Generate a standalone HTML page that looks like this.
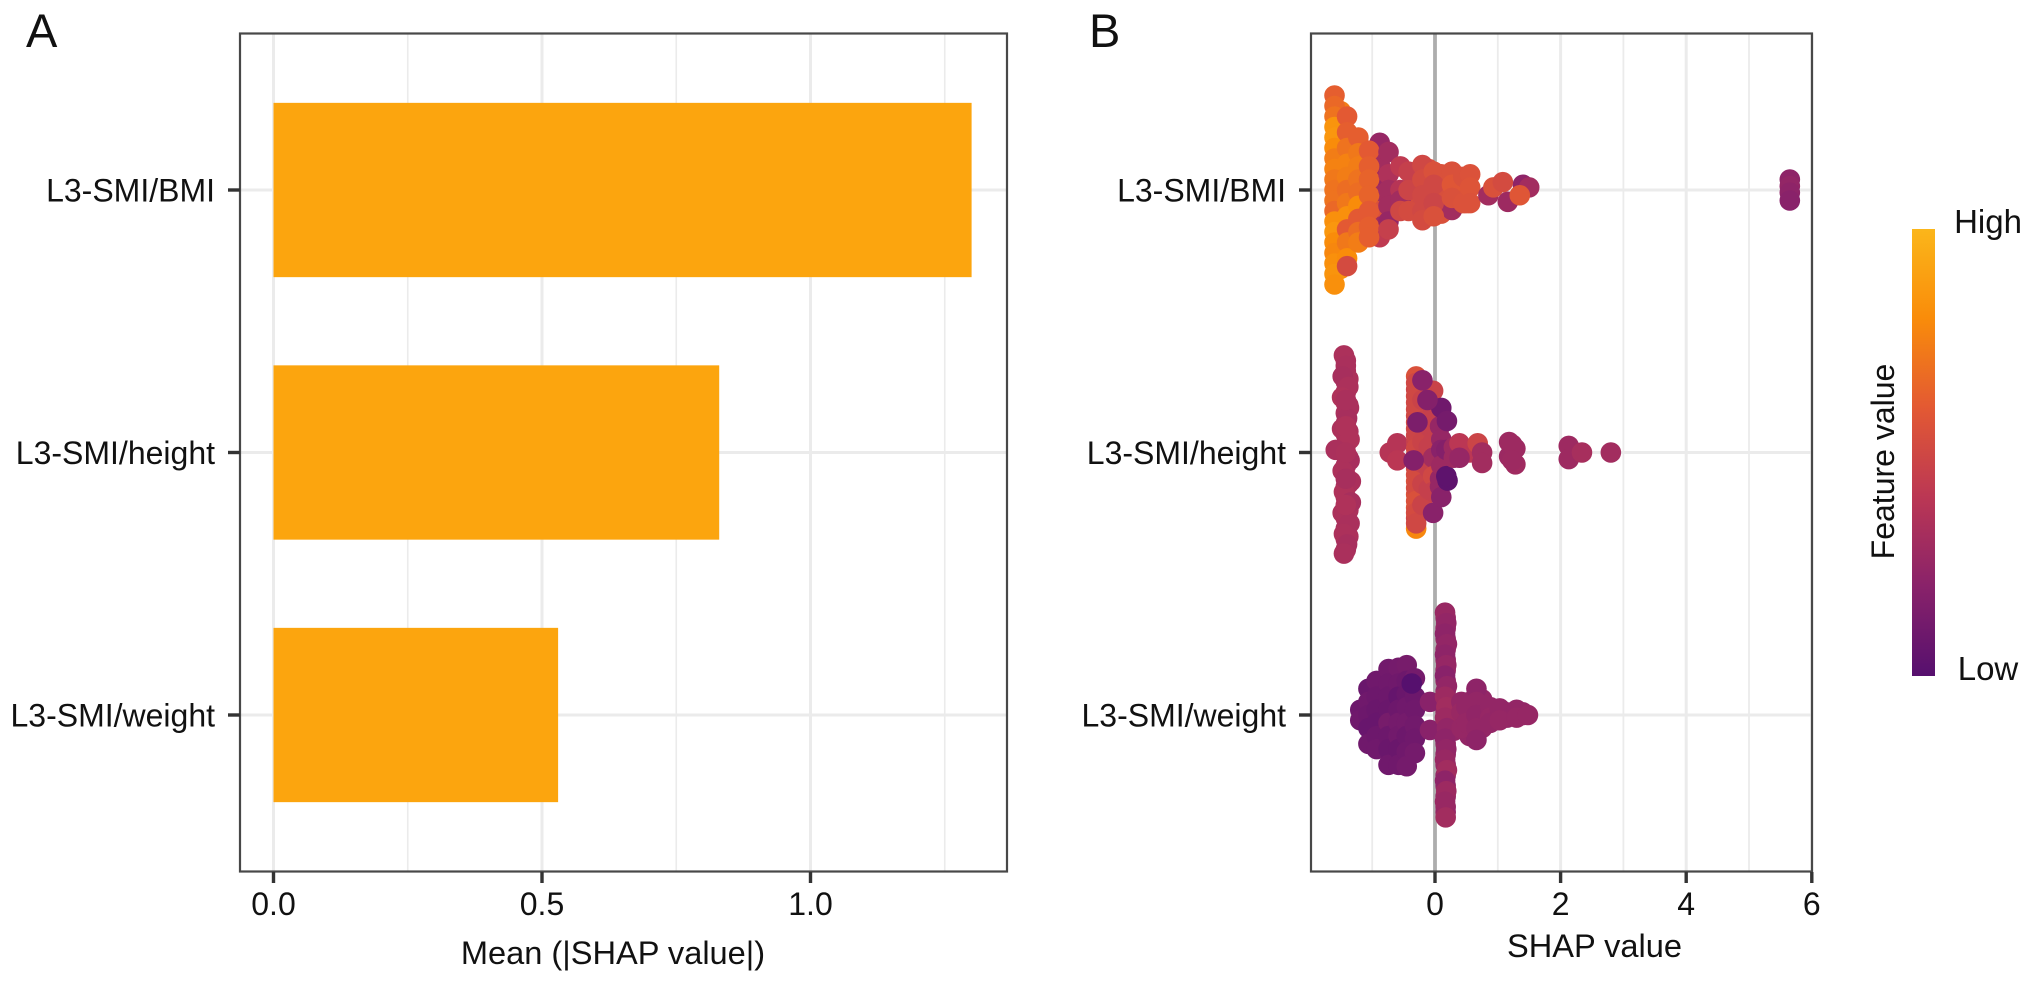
<!DOCTYPE html>
<html lang="en">
<head>
<meta charset="utf-8">
<title>SHAP importance and beeswarm chart</title>
<style>
html,body{margin:0;padding:0;background:#fff;width:2032px;height:984px;overflow:hidden}
svg{display:block}
text{font-family:"Liberation Sans",Arial,sans-serif;fill:#111}
</style>
</head>
<body>
<svg id="chart" xmlns="http://www.w3.org/2000/svg" width="2032" height="984" viewBox="0 0 2032 984">
  <defs>
    <linearGradient id="legendRamp" x1="0" y1="0" x2="0" y2="1">
      <stop offset="0" stop-color="#fbb61a"/>
      <stop offset="0.2" stop-color="#f98c0a"/>
      <stop offset="0.4" stop-color="#e35933"/>
      <stop offset="0.6" stop-color="#bb3754"/>
      <stop offset="0.8" stop-color="#89226a"/>
      <stop offset="1" stop-color="#56106e"/>
    </linearGradient>
  </defs>
  <rect width="2032" height="984" fill="#fff"/>
  <g id="panelA"></g>
  <g id="panelB"></g>
  <text x="26" y="47" font-size="47">A</text>
  <text x="1089" y="47" font-size="47">B</text>
  <text x="613" y="964" font-size="32.6" text-anchor="middle">Mean (|SHAP value|)</text>
  <text x="1594.5" y="957" font-size="32.6" text-anchor="middle">SHAP value</text>
  <g>
    <rect x="1912" y="229" width="23" height="447" fill="url(#legendRamp)"/>
    <text transform="translate(1894 461.5) rotate(-90)" font-size="32" text-anchor="middle">Feature value</text>
    <text x="1988" y="233" font-size="33" text-anchor="middle">High</text>
    <text x="1988" y="680" font-size="33" text-anchor="middle">Low</text>
  </g>
</svg>
<script>
const categories = ["L3-SMI/BMI", "L3-SMI/height", "L3-SMI/weight"];
const meanShap = [1.30, 0.83, 0.53];
const barTicks = ["0.0", "0.5", "1.0"];
const barMinorTicks = [0.25, 0.75, 1.25];
const swarmTicks = ["0", "2", "4", "6"];
const swarmMinorTicks = [-1, 1, 3, 5];

const bmiShap = [
-1.5,-1.5,-1.5,-1.5,-1.5,-1.5,-1.5,-1.5,-1.5,-1.5,-1.5,-1.5,
-1.3,-1.3,-1.3,-1.3,-1.3,-1.3,-1.3,-1.3,-1.3,
-1.12,-1.12,-1.12,-1.12,-1.12,-1.12,
-0.3,-0.3,-0.3,-0.3,
-0.1,-0.1,-0.1,-0.1,
0.1,0.1,0.1,0.1,
0.2,0.2,0.2,
0.4,0.4,0.4,
0.5,0.5,0.5,
-1.6,-1.6,-1.6,-1.6,-1.6,-1.6,-1.6,-1.6,-1.6,-1.6,-1.6,-1.6,-1.6,-1.6,-1.6,-1.6,-1.6,-1.6,-1.6,
-1.4,-1.4,-1.4,-1.4,-1.4,-1.4,-1.4,-1.4,-1.4,-1.4,-1.4,-1.4,
-1.22,-1.22,-1.22,-1.22,-1.22,-1.22,-1.22,-1.22,-1.22,
-0.88,-0.88,-0.88,-0.88,-0.88,-0.88,-0.88,
-1.05,-1.05,-1.05,-1.05,-1.05,-1.05,-1.05,
-0.74,-0.74,-0.74,-0.74,-0.74,-0.74,
-0.55,-0.55,-0.55,-0.55,
-0.42,-0.42,-0.42,
0.27,
-0.2,-0.2,-0.2,-0.2,-0.2,
-0.02,-0.02,-0.02,-0.02,
0.27,0.27,0.27,
0.45,0.45,
0.56,0.56,0.56,
0.85,1.16,1.4,1.5,
0.93,1.08,1.35,
5.65,5.65,5.65,5.65];
const bmiSwarm = [
0.3,0.25,0.2,0.15,0.1,0.05,-0.05,-0.1,-0.15,-0.2,-0.25,-0.3,
0.2,0.15,0.1,0.05,0,-0.05,-0.1,-0.15,-0.2,
0.15,0.09,0.03,-0.03,-0.09,-0.15,
0.06,0.02,-0.03,-0.08,
0.08,0.03,-0.03,-0.09,
0.06,0.02,-0.03,-0.09,
0.06,0,-0.06,
0.05,0,-0.05,
0.05,0,-0.05,
0.36,0.32,0.28,0.24,0.2,0.16,0.12,0.08,0.04,0,-0.04,-0.08,-0.12,-0.16,-0.2,-0.24,-0.28,-0.32,-0.36,
0.28,0.22,0.16,0.1,0.05,0,-0.05,-0.1,-0.15,-0.2,-0.26,-0.29,
0.2,0.14,0.09,0.04,-0.01,-0.06,-0.11,-0.16,-0.2,
0.18,0.1,0.04,-0.02,-0.08,-0.14,-0.18,
0.15,0.09,0.04,-0.02,-0.08,-0.14,-0.18,
0.145,0.06,0,-0.06,-0.12,-0.15,
0.09,0,-0.04,-0.08,
0.07,0,-0.08,
-0.076,
0.095,0.04,-0.02,-0.08,-0.115,
0.07,0.02,-0.05,-0.1,
0.07,0.02,-0.03,
0.05,-0.05,
0.06,0.01,-0.05,
-0.02,-0.045,0.02,0.01,
0.01,0.03,-0.02,
0.04,0.015,-0.01,-0.04];
const bmiFeature = [
0.74,0.72,0.8,0.76,0.72,0.7,0.72,0.76,0.8,0.74,0.78,0.8,
0.68,0.72,0.7,0.7,0.66,0.72,0.78,0.7,0.68,
0.62,0.64,0.62,0.66,0.72,0.66,
0.52,0.5,0.52,0.5,
0.54,0.52,0.5,0.52,
0.55,0.54,0.52,0.55,
0.55,0.54,0.55,
0.56,0.55,0.56,
0.56,0.57,0.56,
0.62,0.66,0.7,0.84,0.85,0.8,0.74,0.76,0.72,0.7,0.7,0.66,0.82,0.85,0.8,0.78,0.82,0.84,0.82,
0.6,0.62,0.7,0.76,0.74,0.68,0.72,0.82,0.6,0.72,0.8,0.52,
0.62,0.72,0.74,0.7,0.68,0.8,0.6,0.68,0.74,
0.25,0.3,0.25,0.3,0.55,0.3,0.42,
0.6,0.62,0.64,0.64,0.6,0.62,0.62,
0.3,0.35,0.3,0.3,0.25,0.45,
0.42,0.38,0.3,0.5,
0.45,0.48,0.52,
0.3,
0.5,0.52,0.5,0.5,0.52,
0.55,0.5,0.48,0.55,
0.55,0.58,0.55,
0.55,0.56,
0.56,0.57,0.56,
0.3,0.28,0.22,0.3,
0.55,0.52,0.58,
0.22,0.24,0.22,0.2];

const heightShap = [
-1.42,-1.42,-1.42,-1.42,-1.42,-1.42,-1.42,-1.42,-1.42,-1.42,-1.42,-1.42,-1.42,-1.42,-1.42,-1.42,-1.42,-1.42,-1.42,
-1.38,-1.38,-1.38,-1.38,-1.38,-1.38,-1.38,
-1.45,-1.42,-1.47,-1.38,-1.48,-1.37,-1.4,-1.48,-1.36,-1.58,-1.36,-1.47,-1.34,-1.45,-1.34,-1.47,-1.36,-1.45,-1.4,-1.45,
-1.42,-1.42,-1.42,-1.42,-1.42,
-0.72,-0.6,-0.6,
-0.3,-0.3,-0.3,-0.3,-0.3,-0.3,-0.3,-0.3,-0.3,-0.3,-0.3,-0.3,-0.3,
-0.3,-0.3,-0.3,-0.3,-0.3,-0.3,-0.3,-0.3,-0.3,-0.3,-0.3,-0.3,
-0.2,-0.2,-0.2,-0.2,-0.2,-0.2,
-0.1,-0.1,-0.1,-0.1,
-0.03,-0.03,-0.03,-0.03,-0.03,-0.03,-0.03,
-0.03,0.08,0.08,0.08,0.1,0.1,0.1,0.1,0.1,
-0.28,-0.34,-0.12,-0.2,
0.19,0.18,0.2,0.18,
0.3,0.3,0.55,
0.39,0.39,0.68,0.75,0.75,
1.18,1.28,1.18,1.28,1.23,1.23,
2.13,2.13,2.34,2.8];
const heightSwarm = [
0.35,0.31,0.27,0.23,0.19,0.15,0.11,0.07,0.03,-0.01,-0.05,-0.09,-0.13,-0.17,-0.21,-0.25,-0.29,-0.33,-0.37,
0.28,0.18,0.08,-0.02,-0.12,-0.22,-0.32,
0.37,0.33,0.29,0.25,0.21,0.17,0.13,0.09,0.05,0.01,-0.03,-0.07,-0.11,-0.15,-0.19,-0.23,-0.27,-0.31,-0.35,-0.385,
0.2,0.1,0,-0.1,-0.2,
0,0.035,-0.03,
-0.29,0.29,0.24,0.19,0.14,0.09,0.04,-0.01,-0.06,-0.11,-0.16,-0.21,-0.25,
0.265,0.215,0.165,0.115,0.065,0.015,-0.035,-0.085,-0.135,-0.185,-0.23,-0.27,
0.2,0.12,0.04,-0.04,-0.12,-0.2,
0.1,0.02,-0.06,-0.14,
0.235,0.17,0.1,0.04,-0.02,-0.09,-0.15,
-0.23,0.1,-0.1,-0.13,0.17,0.05,0.01,-0.05,-0.17,
0.115,-0.03,0.2,0.275,
0.12,0.01,-0.107,-0.09,
0.02,-0.02,0,
0.035,-0.02,0.035,0,-0.04,
0.04,0.015,-0.015,-0.045,0.03,-0.03,
0.025,-0.025,0,0];
const heightFeature = [
0.33,0.33,0.33,0.33,0.33,0.33,0.33,0.33,0.33,0.33,0.33,0.33,0.33,0.33,0.33,0.33,0.33,0.33,0.33,
0.34,0.34,0.34,0.34,0.34,0.34,0.34,
0.34,0.33,0.32,0.34,0.35,0.33,0.32,0.34,0.35,0.33,0.32,0.34,0.33,0.35,0.32,0.34,0.33,0.34,0.32,0.33,
0.33,0.35,0.34,0.32,0.35,
0.38,0.38,0.4,
0.78,0.55,0.48,0.5,0.5,0.5,0.45,0.5,0.5,0.55,0.55,0.55,0.48,
0.5,0.5,0.5,0.5,0.48,0.5,0.5,0.52,0.52,0.55,0.52,0.5,
0.47,0.47,0.47,0.47,0.47,0.47,
0.45,0.45,0.45,0.45,
0.47,0.45,0.45,0.45,0.3,0.5,0.45,
0.2,0.25,0.25,0.25,0.1,0.25,0.2,0.28,0.2,
0.15,0.18,0.18,0.2,
0.12,0.18,0.03,0.03,
0.28,0.28,0.4,
0.4,0.25,0.48,0.3,0.3,
0.28,0.28,0.27,0.29,0.28,0.28,
0.28,0.28,0.32,0.3];

const weightShap = [
-1.0,-1.0,-1.0,
-0.85,-0.85,-0.85,-0.85,-0.85,
-0.66,-0.66,-0.66,-0.66,-0.66,
-0.52,-0.52,-0.52,-0.52,
0.17,0.17,0.17,0.17,0.17,0.17,0.17,0.17,0.17,0.17,0.17,0.17,0.17,0.17,0.17,0.17,0.17,0.17,0.17,0.17,
0.3,0.3,0.3,0.3,
0.55,0.55,0.55,0.55,
0.75,0.75,0.75,0.75,
0.95,0.95,
1.15,1.15,
1.4,1.4,
-1.19,-1.19,
-1.06,-1.06,-1.06,-1.06,-1.06,
-0.93,-0.93,-0.93,-0.93,-0.93,-0.93,
-0.74,-0.74,-0.74,-0.74,-0.74,-0.74,-0.74,-0.74,
-0.58,-0.58,-0.58,-0.58,-0.58,-0.58,-0.58,-0.58,
-0.45,-0.45,-0.45,-0.45,-0.45,-0.45,-0.45,-0.45,
-0.32,-0.32,-0.32,-0.32,-0.32,-0.32,
-0.37,
-0.08,-0.08,
0.16,0.18,0.16,0.19,0.16,0.18,0.16,0.19,0.16,0.18,0.16,0.19,0.16,0.18,0.16,0.19,0.16,0.18,0.16,0.17,
0.42,0.42,0.42,0.5,0.5,
0.66,0.66,0.66,0.66,0.66,
0.88,0.88,0.88,
1.03,1.03,
1.3,1.3,
1.48];
const weightSwarm = [
0.05,0,-0.05,
0.12,0.06,0,-0.06,-0.12,
0.14,0.06,0,-0.06,-0.14,
0.15,0.05,-0.05,-0.15,
0.37,0.33,0.29,0.25,0.21,0.17,0.13,0.09,0.05,0.01,-0.03,-0.07,-0.11,-0.15,-0.19,-0.23,-0.27,-0.31,-0.35,-0.37,
0.04,0,-0.04,-0.06,
0.05,0,-0.05,-0.08,
0.06,0.02,-0.02,-0.05,
0.01,-0.02,
0.01,-0.01,
0,0.01,
0.02,-0.02,
0.1,0.05,0,-0.05,-0.11,
0.13,0.07,0.02,-0.03,-0.08,-0.13,
0.175,0.12,0.07,0.02,-0.03,-0.08,-0.13,-0.19,
0.18,0.12,0.07,0.02,-0.03,-0.08,-0.13,-0.19,
0.19,0.13,0.08,0.03,-0.03,-0.08,-0.14,-0.195,
0.14,0.07,0.02,-0.04,-0.09,-0.145,
0.12,
0.05,-0.057,
0.39,0.35,0.31,0.27,0.23,0.19,0.15,0.11,0.07,0.03,-0.01,-0.05,-0.09,-0.13,-0.17,-0.21,-0.25,-0.29,-0.33,-0.39,
0.05,0.01,-0.05,0.03,-0.03,
0.1,0.05,0,-0.05,-0.095,
0.03,-0.01,-0.03,
0.025,-0.02,
0.02,-0.01,
0];
const weightFeature = [
0.09,0.09,0.09,
0.09,0.09,0.09,0.09,0.09,
0.1,0.1,0.1,0.1,0.1,
0.1,0.1,0.1,0.1,
0.25,0.25,0.25,0.25,0.25,0.25,0.25,0.25,0.25,0.25,0.25,0.25,0.25,0.25,0.25,0.25,0.25,0.25,0.25,0.25,
0.24,0.24,0.24,0.24,
0.24,0.24,0.24,0.24,
0.24,0.24,0.24,0.24,
0.24,0.24,
0.24,0.24,
0.24,0.24,
0.09,0.1,
0.08,0.1,0.09,0.07,0.1,
0.1,0.09,0.08,0.07,0.09,0.1,
0.11,0.1,0.09,0.08,0.13,0.09,0.08,0.1,
0.12,0.1,0.06,0.09,0.12,0.11,0.08,0.1,
0.13,0.09,0.08,0.1,0.12,0.09,0.1,0.12,
0.12,0.09,0.1,0.11,0.1,0.12,
0.0,
0.2,0.2,
0.26,0.24,0.22,0.24,0.22,0.25,0.2,0.24,0.28,0.3,0.28,0.24,0.22,0.24,0.26,0.3,0.22,0.28,0.26,0.3,
0.24,0.26,0.25,0.24,0.25,
0.22,0.24,0.23,0.24,0.22,
0.24,0.25,0.24,
0.24,0.25,
0.24,0.25,
0.25];

const groups = [
  { name: "bmi", shap: bmiShap, swarm: bmiSwarm, feature: bmiFeature },
  { name: "height", shap: heightShap, swarm: heightSwarm, feature: heightFeature },
  { name: "weight", shap: weightShap, swarm: weightSwarm, feature: weightFeature }
];

const SVGNS = "http://www.w3.org/2000/svg";
const panelA = document.getElementById("panelA");
const panelB = document.getElementById("panelB");

function xA(v) { return 273.5 + 537 * v; }
function xB(v) { return 1435 + 62.8 * v; }
function yCat(pos) { return 190 + 262.5 * pos; }

const ramp = [[0x56,0x10,0x6e],[0x89,0x22,0x6a],[0xbb,0x37,0x54],[0xe3,0x59,0x33],[0xf9,0x8c,0x0a],[0xfb,0xb6,0x1a]];
function featureColor(f) {
  const t = Math.max(0, Math.min(1, f)) * (ramp.length - 1);
  const i = Math.min(ramp.length - 2, Math.floor(t));
  const u = t - i;
  const c = ramp[i].map((a, k) => Math.round(a + (ramp[i + 1][k] - a) * u));
  return "rgb(" + c.join(",") + ")";
}

function make(parent, tag, props, content) {
  const el = document.createElementNS(SVGNS, tag);
  for (const key in props) el.setAttribute(key, props[key]);
  if (content !== undefined) el.textContent = content;
  parent.appendChild(el);
  return el;
}

function vGrid(parent, x, width, label) {
  const el = make(parent, "line", { x1: x, x2: x, y1: 34, y2: 871, stroke: "#ebebeb", "stroke-width": width });
  
  
}

function hGrid(parent, y, x1, x2) {
  const el = make(parent, "line", { x1: x1, x2: x2, y1: y, y2: y, stroke: "#ebebeb", "stroke-width": 3 });
  
  
}

function frame(parent, x1, x2) {
  const el = make(parent, "rect", { x: x1, y: 33.5, width: x2 - x1, height: 838, fill: "none", stroke: "#484848", "stroke-width": 2.2 });
  
  
}

function xTick(parent, x, label) {
  const tick = make(parent, "line", { x1: x, x2: x, y1: 872, y2: 883, stroke: "#333", "stroke-width": 3.4 });
  
  
  const text = make(parent, "text", { x: x, y: 915, "font-size": 32, "text-anchor": "middle" }, label);
  
  
}

function yTick(parent, y, axisX, label) {
  const tick = make(parent, "line", { x1: axisX - 12, x2: axisX, y1: y, y2: y, stroke: "#333", "stroke-width": 3.4 });
  
  
  const text = make(parent, "text", { x: axisX - 25, y: y + 11.5, "font-size": 32, "text-anchor": "end" }, label);
  
  
}

/* Panel A: mean absolute SHAP bars */
barMinorTicks.forEach(function (v) { vGrid(panelA, xA(v), 1.6, 'x-minor-gridline'); });
barTicks.forEach(function (t) { vGrid(panelA, xA(parseFloat(t)), 3, 'x-major-gridline'); });
categories.forEach(function (c, i) { hGrid(panelA, yCat(i), 241, 1006); });
meanShap.forEach(function (v, i) {
  const bar = make(panelA, "rect", {
    x: xA(0), y: yCat(i - 0.332), width: xA(v) - xA(0), height: yCat(0.664) - yCat(0), fill: "#fca50e"
  });
  
  
});
frame(panelA, 240, 1007);
barTicks.forEach(function (t) { xTick(panelA, xA(parseFloat(t)), t); });
categories.forEach(function (c, i) { yTick(panelA, yCat(i), 240, c); });

/* Panel B: SHAP beeswarm */
swarmMinorTicks.forEach(function (v) { vGrid(panelB, xB(v), 1.8, 'x-minor-gridline'); });
swarmTicks.forEach(function (t) { vGrid(panelB, xB(parseFloat(t)), 3, 'x-major-gridline'); });
categories.forEach(function (c, i) { hGrid(panelB, yCat(i), 1312, 1811); });
const zeroLine = make(panelB, "line", { x1: xB(0), x2: xB(0), y1: 34, y2: 871, stroke: "#adadad", "stroke-width": 3.8 });


groups.forEach(function (group, i) {
  group.shap.forEach(function (v, k) {
    const dot = make(panelB, "circle", {
      cx: xB(v), cy: yCat(i - group.swarm[k]), r: 10.3, fill: featureColor(group.feature[k])
    });
    
    
  });
});
frame(panelB, 1311, 1812);
swarmTicks.forEach(function (t) { xTick(panelB, xB(parseFloat(t)), t); });
categories.forEach(function (c, i) { yTick(panelB, yCat(i), 1311, c); });
</script>
</body>
</html>
